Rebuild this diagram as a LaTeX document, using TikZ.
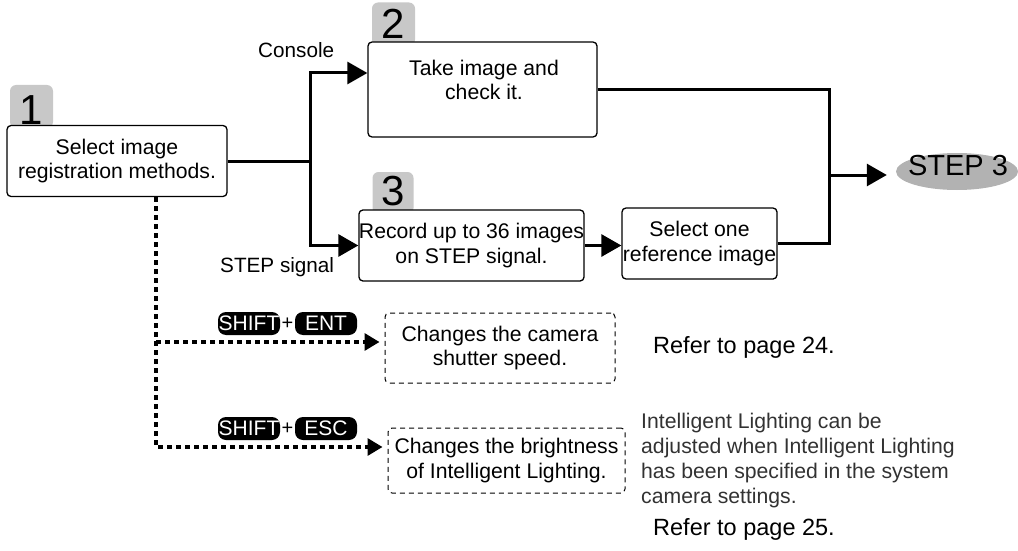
\documentclass[tikz,border=0pt]{standalone}
\usepackage{fontspec}
\setmainfont{Liberation Sans}
\usetikzlibrary{arrows.meta,shapes.geometric,calc}
\definecolor{badgegray}{RGB}{200,200,200}
\definecolor{ellgray}{RGB}{178,178,178}
\definecolor{notegray}{RGB}{50,50,50}
\begin{document}
\begin{tikzpicture}[x=1pt,y=-1pt,
  mainfont/.style={font=\fontsize{21.2}{24.5}\selectfont},
  box/.style={draw=black,line width=1.3pt,rounded corners=4pt,fill=white,inner sep=0pt,align=center,mainfont},
  badge/.style={fill=badgegray,rounded corners=6pt,minimum width=43pt,minimum height=43pt,inner sep=0pt},
  num/.style={font=\fontsize{42}{42}\selectfont,inner sep=0pt},
  plain/.style={line width=3pt},
  flow/.style={line width=3pt,-{Triangle[length=20pt,width=22pt]}},
  dotline/.style={line width=3.3pt,dash pattern=on 5pt off 4pt},
  dotarr/.style={dotline,-{Triangle[length=15pt,width=17pt]}},
  dbox/.style={draw=black,line width=1pt,dash pattern=on 5pt off 4pt,rounded corners=4pt,inner sep=0pt,align=center,mainfont},
  key/.style={fill=black,text=white,rounded corners=8pt,minimum width=62pt,minimum height=23pt,inner sep=0pt,font=\fontsize{21}{21}\selectfont},
  lbl/.style={inner sep=0pt,anchor=base west,font=\fontsize{20.7}{24}\selectfont},
  refer/.style={inner sep=0pt,anchor=base west,font=\fontsize{23.5}{28}\selectfont},
]
\useasboundingbox (0,0) rectangle (1018,551);

% badges
\node[badge] (g1) at (31.5,106.5) {};
\node[badge] (g2) at (393.5,24) {};
\node[badge,minimum width=41pt,minimum height=42pt] (g3) at (393,193) {};
\node[num] (n1) at (31.5,110) {1};
\node[num] (n2) at (393.5,23.5) {2};
\node[num] (n3) at (393,191.5) {3};

% boxes
\node[box,minimum width=220pt,minimum height=71pt] (b1) at (117,161) {Select image\\registration methods.};
\node[box,minimum width=229pt,minimum height=95pt] (b2) at (482.5,89.5) {};
\node[inner sep=0pt,align=center,mainfont] (t2) at (484,80) {Take image and\\check it.};
\node[box,minimum width=217pt,minimum height=71pt] (b3) at (471.5,245.5) {Record up to 36 images\\on STEP signal.};
\node[box,minimum width=155pt,minimum height=71pt] (b4) at (699.5,243.5) {Select one\\reference image};

% step 3
\node[ellipse,fill=ellgray,minimum width=122pt,minimum height=37pt,inner sep=0pt] (s3) at (957,171.5) {};
\node[inner sep=0pt,font=\fontsize{29}{29}\selectfont] (t3) at (958,166) {STEP 3};

% dashed boxes
\node[dbox,minimum width=230pt,minimum height=70pt] (dA) at (500,348) {Changes the camera\\shutter speed.};
\node[dbox,minimum width=237pt,minimum height=65pt] (dB) at (506.5,460.5) {Changes the brightness\\of Intelligent Lighting.};

% labels
\node[lbl] (console) at (258,58) {Console};
\node[lbl] (stepsig) at (220,272) {STEP signal};
\node[refer] (r24) at (653,353) {Refer to page 24.};
\node[refer] (r25) at (653,535) {Refer to page 25.};
\node[inner sep=0pt,anchor=base west,align=left,text=notegray,font=\fontsize{21.2}{25}\selectfont] (note) at (641,503)
  {Intelligent Lighting can be\\adjusted when Intelligent Lighting\\has been specified in the system\\camera settings.};

% keys
\node[key] (k1) at (249,323.5) {SHIFT};
\node[inner sep=0pt,font=\fontsize{20}{20}\selectfont] (p1) at (287.5,324) {+};
\node[key] (k2) at (326,323.5) {ENT};
\node[key] (k3) at (249,428.5) {SHIFT};
\node[inner sep=0pt,font=\fontsize{20}{20}\selectfont] (p2) at (287.5,429) {+};
\node[key] (k4) at (326,428.5) {ESC};

% main connectors
\coordinate (j) at (310,161);
\draw[plain] (b1.east) -- (j);
\draw[flow] (j) |- ([yshift=16.5pt]b2.west);
\draw[flow] (j) |- (b3.west);
\draw[flow] (b3.east) -- (b3.east -| b4.west);
\coordinate (k) at (829,175);
\draw[plain] (b2.east) -| (k);
\draw[plain] (b4.east) -| (k);
\draw[flow,shorten >=9pt] (k) -- ([yshift=-3.5pt]s3.west);

% dotted connectors
\coordinate (d1) at (156,342);
\draw[dotarr,shorten >=5pt] ([xshift=39pt]b1.south) |- ([yshift=13.5pt]dB.west);
\draw[dotarr,shorten >=5pt] (d1) -- (d1 -| dA.west);
\end{tikzpicture}
\end{document}
